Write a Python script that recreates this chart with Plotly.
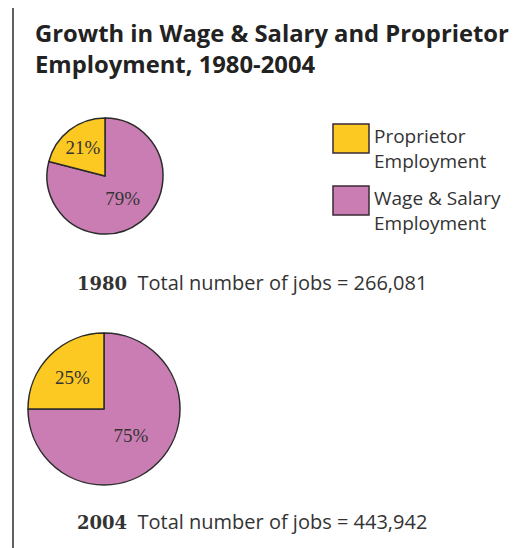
import plotly.graph_objects as go

categories = ["Proprietor Employment", "Wage & Salary Employment"]
legend_labels = ["Proprietor<br>Employment", "Wage & Salary<br>Employment"]
years = ["1980", "2004"]
shares_1980 = [21, 79]
shares_2004 = [25, 75]
totals = ["266,081", "443,942"]
colors = ["#FCC922", "#C97DB3"]

PAGE_OFF = 8  # default body margin of the html page
W, H = 522 - PAGE_OFF, 548 - PAGE_OFF

def px_x(x):
    return (x - PAGE_OFF) / W

def px_y(y):
    return 1 - (y - PAGE_OFF) / H

fig = go.Figure()

pie_boxes = [(47, 163, 118, 234), (28, 180, 333, 485)]
for vals, (x0, x1, y0, y1) in zip([shares_1980, shares_2004], pie_boxes):
    # wage & salary first, clockwise from 12 o'clock -> proprietor ends at 12 o'clock on the left
    fig.add_trace(go.Pie(
        labels=categories[::-1], values=vals[::-1], sort=False, direction="clockwise",
        rotation=0,
        marker=dict(colors=colors[::-1], line=dict(color="#2b2b2b", width=1.5)),
        textinfo="percent", textposition="inside", insidetextorientation="horizontal",
        textfont=dict(family="Liberation Serif", size=19, color="#333333"),
        domain=dict(x=[px_x(x0), px_x(x1)], y=[px_y(y1), px_y(y0)]),
        showlegend=False, hoverinfo="label+percent",
    ))

shapes = [
    dict(type="line", xref="paper", yref="paper", x0=px_x(13), x1=1.02, y0=px_y(5), y1=px_y(5),
         line=dict(color="#2b2b2b", width=1.5)),
    dict(type="line", xref="paper", yref="paper", x0=px_x(13), x1=px_x(13), y0=px_y(5), y1=-0.02,
         line=dict(color="#2b2b2b", width=1.5)),
]
legend_boxes = [(333, 124, 369, 153), (333, 186, 369, 215)]
for c, (x0, y0, x1, y1) in zip(colors, legend_boxes):
    shapes.append(dict(type="rect", xref="paper", yref="paper", x0=px_x(x0), x1=px_x(x1),
                       y0=px_y(y1), y1=px_y(y0), fillcolor=c,
                       line=dict(color="#3a2a35", width=1.5)))

annotations = [
    dict(x=px_x(33), y=px_y(15), xref="paper", yref="paper", xanchor="left", yanchor="top",
         text="<b>Growth in Wage &amp; Salary and Proprietor<br>Employment, 1980-2004</b>",
         showarrow=False, align="left",
         font=dict(family="Open Sans", size=23.8, color="#222222")),
]
legend_tops = [124, 186]
for lbl, yt in zip(legend_labels, legend_tops):
    annotations.append(dict(x=px_x(372), y=px_y(yt - 3), xref="paper", yref="paper",
                            xanchor="left", yanchor="top", text=lbl, showarrow=False,
                            align="left", font=dict(family="Open Sans", size=19, color="#333333")))
total_y = [282, 521]
for yr, tot, yc in zip(years, totals, total_y):
    annotations.append(dict(x=px_x(75), y=px_y(yc), xref="paper", yref="paper",
                            xanchor="left", yanchor="middle",
                            text=f"<b><span style='font-family:DejaVu Serif;font-size:18px'>{yr}</span></b>  Total number of jobs = {tot}",
                            showarrow=False, align="left",
                            font=dict(family="Open Sans", size=20, color="#333333")))

fig.update_layout(
    width=W, height=H, margin=dict(l=0, r=0, t=0, b=0),
    paper_bgcolor="white", plot_bgcolor="white",
    shapes=shapes, annotations=annotations,
)
fig.write_html("out.html")
